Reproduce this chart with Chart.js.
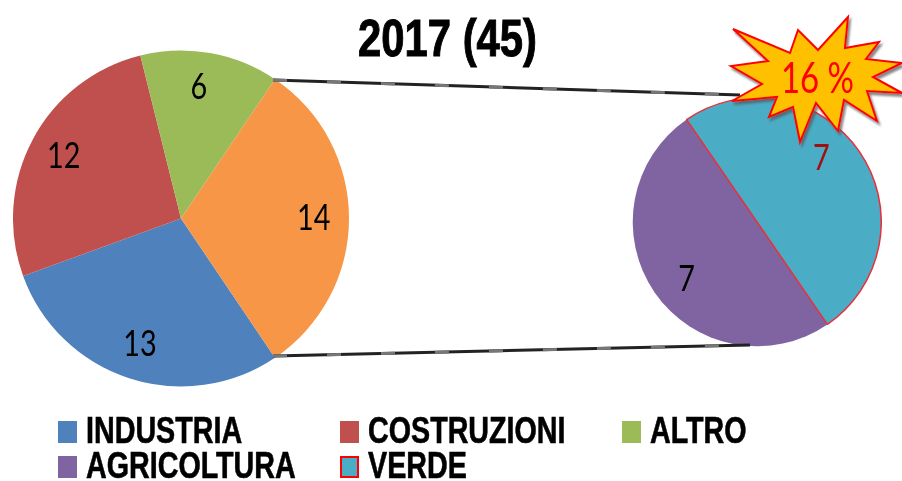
<!DOCTYPE html>
<html>
<head>
<meta charset="utf-8">
<script src="https://cdn.jsdelivr.net/npm/chart.js@4"></script>
<style>
    html, body { margin: 0; padding: 0; background: #fff; }
    #page { position: relative; width: 902px; height: 481px; overflow: hidden; font-family: "Liberation Sans", sans-serif; }
    canvas { position: absolute; }
    #leftPie { left: 13px; top: 50px; }
    #rightPie { left: 632px; top: 97px; }
    #overlay { position: absolute; left: 0; top: 0; }
    #title { position: absolute; left: 358px; top: 9px; font-size: 51px; font-weight: bold; color: #000;
        -webkit-text-stroke: 1px #000; transform: scaleX(0.82); transform-origin: left top; white-space: nowrap; }
    #legend { position: absolute; left: 58px; top: 412px; display: grid; grid-template-columns: 282px 282px 200px; grid-auto-rows: 35px; }
    .item { position: relative; height: 35px; }
    .swatch { position: absolute; left: 0; top: 9px; width: 19px; height: 22px; }
    .label { position: absolute; left: 28px; top: 0; font-size: 37px; line-height: 37px; font-weight: bold; color: #000;
        -webkit-text-stroke: 0.6px #000; transform: scaleX(0.775); transform-origin: left top; white-space: nowrap; }
</style>
</head>
<body>
<div id="page">
    <canvas id="leftPie" width="336" height="337"></canvas>
    <canvas id="rightPie" width="250" height="250"></canvas>
    <svg id="overlay" width="902" height="481">
        <defs>
            <filter id="burstShadow" x="-10%" y="-10%" width="120%" height="120%">
                <feDropShadow dx="2" dy="3" stdDeviation="1" flood-color="#555" flood-opacity="0.7"/>
            </filter>
        </defs>
        <g id="connectors"></g>
        <polygon id="burst" fill="#FFC000" stroke="#FF0000" stroke-width="2" filter="url(#burstShadow)"></polygon>
        <text id="burstText" x="781" y="93" font-family="Lato" font-size="42" fill="#FF0000" textLength="73" lengthAdjust="spacingAndGlyphs"></text>
    </svg>
    <div id="title"></div>
    <div id="legend"></div>
</div>

<script>
const chartTitle = '2017 (45)';
const burstLabel = '16 %';

const leftCategories = ['INDUSTRIA', 'COSTRUZIONI', 'ALTRO', 'AGRICOLTURA + VERDE'];
const leftValues = [13, 12, 6, 14];
const leftColours = ['#4F81BD', '#C0504D', '#9BBB59', '#F79646'];

const rightCategories = ['AGRICOLTURA', 'VERDE'];
const rightValues = [7, 7];
const rightColours = ['#8064A2', '#4BACC6'];

const legendLabels = ['INDUSTRIA', 'COSTRUZIONI', 'ALTRO', 'AGRICOLTURA', 'VERDE'];
const legendColours = ['#4F81BD', '#C0504D', '#9BBB59', '#8064A2', '#4BACC6'];

// Draws the value on each slice, radial position given as share of the radius
const sliceLabels = {
    id: 'sliceLabels',
    afterDatasetsDraw(chart, args, opts) {
        const ctx = chart.ctx;
        const meta = chart.getDatasetMeta(0);
        meta.data.forEach((arc, i) => {
            const mid = (arc.startAngle + arc.endAngle) / 2 + opts.turn[i];
            const r = arc.outerRadius * opts.share;
            ctx.save();
            ctx.translate(arc.x + Math.cos(mid) * r, arc.y + Math.sin(mid) * r);
            // the reference text is stretched, taller than it is wide
            ctx.scale(0.8, 1);
            ctx.font = opts.font;
            ctx.textAlign = 'center';
            ctx.textBaseline = 'middle';
            ctx.fillStyle = opts.colours[i];
            ctx.fillText(chart.data.datasets[0].data[i], 0, 0);
            ctx.restore();
        });
    }
};

function pieOptions(rotation, labelOpts) {
    return {
        responsive: false,
        animation: false,
        rotation: rotation,
        layout: { padding: 0 },
        plugins: {
            legend: { display: false },
            tooltip: { enabled: false },
            sliceLabels: labelOpts
        }
    };
}

new Chart(document.getElementById('leftPie'), {
    type: 'pie',
    data: {
        labels: leftCategories,
        datasets: [{ data: leftValues, backgroundColor: leftColours, borderWidth: 0 }]
    },
    options: pieOptions(146, { font: '36px Lato', share: 0.79, turn: [0, 0, -0.04, 0], colours: ['#000', '#000', '#000', '#000'] }),
    plugins: [sliceLabels]
});

new Chart(document.getElementById('rightPie'), {
    type: 'pie',
    data: {
        labels: rightCategories,
        datasets: [{
            data: rightValues,
            backgroundColor: rightColours,
            borderColor: ['#8064A2', '#E8303A'],
            borderWidth: [0, 1.5]
        }]
    },
    options: pieOptions(145.5, { font: '36px Lato', share: 0.73, turn: [-0.08, -0.18], colours: ['#000', '#A01010'] }),
    plugins: [sliceLabels]
});

document.getElementById('title').textContent = chartTitle;
document.getElementById('burstText').textContent = burstLabel;

// Series-lines between the two pies
const connectorEnds = [[273, 80, 740, 95], [273, 356, 750, 345]];
const svgNs = 'http://www.w3.org/2000/svg';
connectorEnds.forEach(c => {
    [['#222', 'none'], ['#777', '14 40']].forEach(style => {
        const line = document.createElementNS(svgNs, 'line');
        line.setAttribute('x1', c[0]);
        line.setAttribute('y1', c[1]);
        line.setAttribute('x2', c[2]);
        line.setAttribute('y2', c[3]);
        line.setAttribute('stroke', style[0]);
        line.setAttribute('stroke-width', 3);
        line.setAttribute('stroke-dasharray', style[1]);
        document.getElementById('connectors').appendChild(line);
    });
});

document.getElementById('burst').setAttribute('points',
    '733,29 790,53 798,30 818,50 848,17 845,48 879,42 866,59 902,63 873,77 902,93 867,91 877,121 844,100 838,131 816,103 800,142 793,107 769,117 777,97 732,101 762,84 731,66 768,61');

// Legend
const legendEl = document.getElementById('legend');
legendLabels.forEach((name, i) => {
    const item = document.createElement('div');
    item.className = 'item';
    const swatch = document.createElement('div');
    swatch.className = 'swatch';
    swatch.style.background = legendColours[i];
    if (name === 'VERDE') {
        swatch.style.boxSizing = 'border-box';
        swatch.style.border = '2px solid #FF0000';
    }
    const label = document.createElement('div');
    label.className = 'label';
    label.textContent = name;
    item.appendChild(swatch);
    item.appendChild(label);
    legendEl.appendChild(item);
});
</script>
</body>
</html>
